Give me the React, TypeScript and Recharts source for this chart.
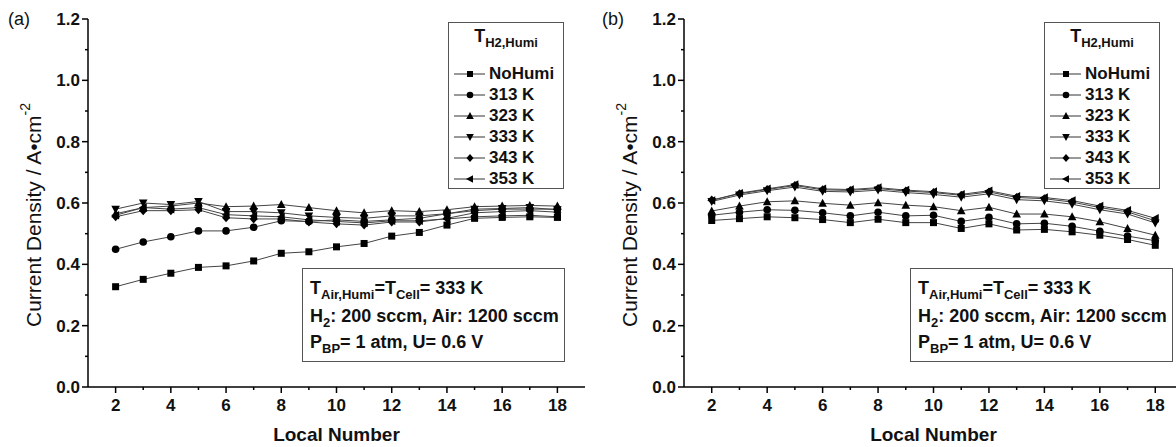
import React from 'react';
import { LineChart, Line, XAxis, YAxis, Legend, Label } from 'recharts';

const FONT = '"Liberation Sans", Arial, Helvetica, sans-serif';

const localNumbers = [2, 3, 4, 5, 6, 7, 8, 9, 10, 11, 12, 13, 14, 15, 16, 17, 18];
const seriesNames = ['NoHumi', '313 K', '323 K', '333 K', '343 K', '353 K'];
const markerShapes = ['square', 'circle', 'triangleUp', 'triangleDown', 'diamond', 'triangleLeft'];
const xMajorTicks = [2, 4, 6, 8, 10, 12, 14, 16, 18];
const xAllTicks = [2, 3, 4, 5, 6, 7, 8, 9, 10, 11, 12, 13, 14, 15, 16, 17, 18];
const yAllTicks = [0, 0.1, 0.2, 0.3, 0.4, 0.5, 0.6, 0.7, 0.8, 0.9, 1.0, 1.1, 1.2];

// Panel (a)
const aNoHumi = [0.327, 0.351, 0.371, 0.390, 0.395, 0.411, 0.436, 0.441, 0.457, 0.468, 0.492, 0.504, 0.528, 0.550, 0.553, 0.555, 0.553];
const a313 = [0.449, 0.473, 0.490, 0.509, 0.509, 0.521, 0.542, 0.540, 0.545, 0.540, 0.545, 0.550, 0.565, 0.575, 0.580, 0.580, 0.580];
const a323 = [0.565, 0.585, 0.590, 0.600, 0.588, 0.590, 0.595, 0.585, 0.575, 0.568, 0.575, 0.572, 0.578, 0.588, 0.590, 0.592, 0.590];
const a333 = [0.580, 0.600, 0.595, 0.605, 0.572, 0.572, 0.568, 0.558, 0.553, 0.550, 0.558, 0.558, 0.565, 0.580, 0.582, 0.585, 0.578];
const a343 = [0.555, 0.575, 0.575, 0.578, 0.552, 0.548, 0.548, 0.538, 0.532, 0.528, 0.538, 0.538, 0.550, 0.568, 0.572, 0.575, 0.570];
const a353 = [0.560, 0.585, 0.580, 0.585, 0.562, 0.558, 0.555, 0.545, 0.540, 0.535, 0.542, 0.542, 0.548, 0.555, 0.558, 0.560, 0.555];

// Panel (b)
const bNoHumi = [0.543, 0.549, 0.555, 0.552, 0.546, 0.536, 0.547, 0.536, 0.536, 0.517, 0.532, 0.512, 0.514, 0.506, 0.495, 0.481, 0.462];
const b313 = [0.560, 0.570, 0.578, 0.576, 0.568, 0.558, 0.570, 0.558, 0.560, 0.540, 0.553, 0.532, 0.534, 0.524, 0.508, 0.492, 0.477];
const b323 = [0.574, 0.590, 0.604, 0.607, 0.599, 0.593, 0.601, 0.593, 0.588, 0.575, 0.586, 0.564, 0.564, 0.555, 0.539, 0.517, 0.495];
const b333 = [0.605, 0.626, 0.640, 0.652, 0.638, 0.636, 0.642, 0.634, 0.628, 0.619, 0.630, 0.611, 0.607, 0.596, 0.578, 0.564, 0.535];
const b343 = [0.610, 0.630, 0.644, 0.657, 0.643, 0.641, 0.647, 0.639, 0.634, 0.625, 0.636, 0.618, 0.614, 0.603, 0.585, 0.571, 0.542];
const b353 = [0.608, 0.632, 0.646, 0.660, 0.646, 0.644, 0.650, 0.642, 0.637, 0.628, 0.640, 0.622, 0.618, 0.608, 0.590, 0.576, 0.550];

const panelASeries = [aNoHumi, a313, a323, a333, a343, a353];
const panelBSeries = [bNoHumi, b313, b323, b333, b343, b353];

function buildRows(series: number[][]) {
  return localNumbers.map((n, i) => {
    const row: Record<string, number> = { x: n };
    series.forEach((s, k) => {
      row['s' + k] = s[i];
    });
    return row;
  });
}

const Marker = ({ cx, cy, shape, size = 7 }: { cx: number; cy: number; shape: string; size?: number }) => {
  const r = size / 2;
  const fill = '#000';
  switch (shape) {
    case 'square':
      return <rect x={cx - r} y={cy - r} width={size} height={size} fill={fill} />;
    case 'circle':
      return <circle cx={cx} cy={cy} r={r + 0.3} fill={fill} />;
    case 'triangleUp':
      return <polygon points={`${cx},${cy - r - 1} ${cx - r - 0.8},${cy + r} ${cx + r + 0.8},${cy + r}`} fill={fill} />;
    case 'triangleDown':
      return <polygon points={`${cx},${cy + r + 1} ${cx - r - 0.8},${cy - r} ${cx + r + 0.8},${cy - r}`} fill={fill} />;
    case 'diamond':
      return <polygon points={`${cx},${cy - r - 1} ${cx + r + 0.5},${cy} ${cx},${cy + r + 1} ${cx - r - 0.5},${cy}`} fill={fill} />;
    case 'triangleLeft':
      return <polygon points={`${cx - r - 1},${cy} ${cx + r},${cy - r - 0.8} ${cx + r},${cy + r + 0.8}`} fill={fill} />;
    default:
      return null;
  }
};

const XTick = (p: any) => {
  const { x, y, payload } = p;
  const v = payload.value as number;
  const major = xMajorTicks.includes(v);
  return (
    <g>
      <line x1={x} x2={x} y1={y} y2={y + (major ? 6 : 3)} stroke="#000" strokeWidth={1.5} />
      {major && (
        <text x={x} y={y + 24} textAnchor="middle" fontFamily={FONT} fontWeight="bold" fontSize={17} fill="#111">
          {v}
        </text>
      )}
    </g>
  );
};

const YTick = (p: any) => {
  const { x, y, payload } = p;
  const v = payload.value as number;
  const major = Math.round(v * 10) % 2 === 0;
  return (
    <g>
      <line x1={x - (major ? 6 : 3)} x2={x} y1={y} y2={y} stroke="#000" strokeWidth={1.5} />
      {major && (
        <text x={x - 8} y={y + 6} textAnchor="end" fontFamily={FONT} fontWeight="bold" fontSize={17} fill="#111">
          {v.toFixed(1)}
        </text>
      )}
    </g>
  );
};

const Sub = ({ children }: { children: React.ReactNode }) => (
  <span style={{ fontSize: 13, position: 'relative', top: 5 }}>{children}</span>
);

const LegendBox = ({ width }: { width: number }) => (
  <div
    style={{
      position: 'absolute',
      left: 0,
      top: 0,
      width,
      height: 167,
      border: '1.5px solid #555',
      boxSizing: 'border-box',
      background: '#fff',
      fontFamily: FONT,
      fontWeight: 'bold',
      color: '#111',
    }}
  >
    <div style={{ position: 'absolute', left: 0, width: '100%', top: 3, textAlign: 'center', fontSize: 18, lineHeight: '20px', whiteSpace: 'nowrap' }}>
      T<Sub>H2,Humi</Sub>
    </div>
    {seriesNames.map((name, i) => (
      <div key={name} style={{ position: 'absolute', left: 0, top: 51 + 21 * i - 10, height: 20, width: '100%' }}>
        <svg width={40} height={20} style={{ position: 'absolute', left: 0, top: 0 }}>
          <line x1={5} x2={36} y1={10} y2={10} stroke="#333" strokeWidth={1} />
          <Marker cx={21} cy={10} shape={markerShapes[i]} size={6} />
        </svg>
        <span style={{ position: 'absolute', left: 40, top: 0, fontSize: 17, lineHeight: '20px', whiteSpace: 'nowrap' }}>{name}</span>
      </div>
    ))}
  </div>
);

const AnnotationBox = ({ left, top, width }: { left: number; top: number; width: number }) => (
  <div
    style={{
      position: 'absolute',
      left,
      top,
      width,
      height: 94,
      border: '1.5px solid #555',
      boxSizing: 'border-box',
      background: '#fff',
      fontFamily: FONT,
      fontWeight: 'bold',
      fontSize: 18,
      color: '#111',
    }}
  >
    <div style={{ position: 'absolute', left: 7, top: 9, lineHeight: '20px', whiteSpace: 'nowrap' }}>
      T<Sub>Air,Humi</Sub>=T<Sub>Cell</Sub>= 333 K
    </div>
    <div style={{ position: 'absolute', left: 7, top: 37, lineHeight: '20px', whiteSpace: 'nowrap' }}>
      H<Sub>2</Sub>: 200 sccm, Air: 1200 sccm
    </div>
    <div style={{ position: 'absolute', left: 7, top: 63, lineHeight: '20px', whiteSpace: 'nowrap' }}>
      P<Sub>BP</Sub>= 1 atm, U= 0.6 V
    </div>
  </div>
);

const YLabelContent = (props: any) => {
  const vb = props.viewBox || { x: 0, y: 19, width: 88, height: 368 };
  const cx = vb.x + 33;
  const cy = vb.y + vb.height / 2 + 12;
  return (
    <text
      x={cx}
      y={cy}
      transform={`rotate(-90, ${cx}, ${cy})`}
      textAnchor="middle"
      dominantBaseline="central"
      fontFamily={FONT}
      fontSize={21}
      fill="#111"
    >
      Current Density / A•cm
      <tspan dy={-8} fontSize={14}>
        -2
      </tspan>
    </text>
  );
};

const makeXLabel = (dyBase: number) => (props: any) => {
  const vb = props.viewBox || { x: 88, y: 387, width: 497, height: 60 };
  return (
    <text x={vb.x + vb.width / 2} y={vb.y + dyBase} textAnchor="middle" fontFamily={FONT} fontWeight="bold" fontSize={19} fill="#111">
      Local Number
    </text>
  );
};

type PanelProps = {
  left: number;
  width: number;
  series: number[][];
  panelLabel: string;
  panelLabelX: number;
  legendLeft: number;
  legendWidth: number;
  annLeft: number;
  annWidth: number;
  xLabelOffset: number;
};

const Panel = ({ left, width, series, panelLabel, panelLabelX, legendLeft, legendWidth, annLeft, annWidth, xLabelOffset }: PanelProps) => {
  const rows = buildRows(series);
  return (
    <div style={{ position: 'absolute', left, top: 0, width, height: 447 }}>
      <LineChart width={width} height={447} data={rows} margin={{ top: 19, right: 15, bottom: 0, left: 0 }}>
        <XAxis
          dataKey="x"
          type="number"
          domain={[1, 19]}
          ticks={xAllTicks}
          interval={0}
          height={60}
          tickSize={0}
          tickMargin={0}
          tickLine={false}
          axisLine={{ stroke: '#000', strokeWidth: 1.5 }}
          tick={<XTick />}
        >
          <Label content={makeXLabel(xLabelOffset)} />
        </XAxis>
        <XAxis
          xAxisId="top"
          orientation="top"
          type="number"
          domain={[1, 19]}
          height={0}
          tick={false}
          tickLine={false}
          axisLine={{ stroke: '#000', strokeWidth: 1.5 }}
        />
        <YAxis
          type="number"
          domain={[0, 1.2]}
          ticks={yAllTicks}
          interval={0}
          width={88}
          tickSize={0}
          tickMargin={0}
          tickLine={false}
          axisLine={{ stroke: '#000', strokeWidth: 1.5 }}
          tick={<YTick />}
        >
          <Label content={YLabelContent} />
        </YAxis>
        <YAxis
          yAxisId="right"
          orientation="right"
          type="number"
          domain={[0, 1.2]}
          width={0}
          tick={false}
          tickLine={false}
          axisLine={{ stroke: '#000', strokeWidth: 1.5 }}
        />
        {series.map((_, k) => (
          <Line
            key={k}
            type="linear"
            dataKey={'s' + k}
            name={seriesNames[k]}
            stroke="#444"
            strokeWidth={1}
            isAnimationActive={false}
            activeDot={false}
            dot={(p: any) => <Marker key={`m-${k}-${p.index}`} cx={p.cx} cy={p.cy} shape={markerShapes[k]} />}
          />
        ))}
        <Legend
          layout="vertical"
          align="center"
          verticalAlign="middle"
          wrapperStyle={{ left: legendLeft, top: 22, width: 0, height: 0, overflow: 'visible' }}
          content={() => <LegendBox width={legendWidth} />}
        />
      </LineChart>
      <AnnotationBox left={annLeft} top={268} width={annWidth} />
      <div
        style={{
          position: 'absolute',
          left: panelLabelX,
          top: 8,
          fontFamily: FONT,
          fontSize: 18,
          color: '#111',
          lineHeight: '22px',
        }}
      >
        {panelLabel}
      </div>
    </div>
  );
};

export default function App() {
  return (
    <div
      style={{
        position: 'absolute',
        left: 0,
        top: 0,
        width: 1176,
        height: 447,
        overflow: 'hidden',
        background: '#fff',
      }}
    >
      <Panel
        left={0}
        width={600}
        series={panelASeries}
        panelLabel="(a)"
        panelLabelX={8}
        legendLeft={448}
        legendWidth={116}
        annLeft={302}
        annWidth={263}
        xLabelOffset={54}
      />
      <Panel
        left={596}
        width={602}
        series={panelBSeries}
        panelLabel="(b)"
        panelLabelX={6}
        legendLeft={448}
        legendWidth={116}
        annLeft={314}
        annWidth={263}
        xLabelOffset={54}
      />
    </div>
  );
}
